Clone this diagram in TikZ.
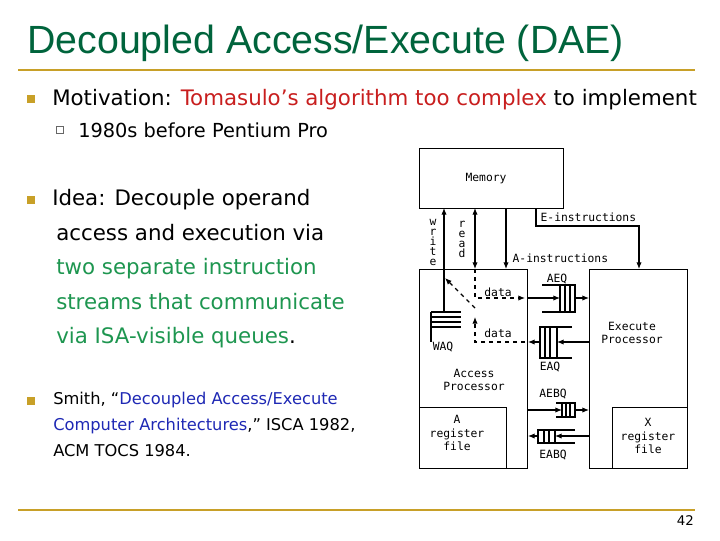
\documentclass[tikz,border=0pt]{standalone}
\usepackage{fontspec}
\setmainfont{DejaVu Sans}
\newfontfamily\titlefont{Liberation Sans}
\newfontfamily\diafont{DejaVu Sans Mono}
\usetikzlibrary{arrows.meta}
\definecolor{tgreen}{RGB}{0,100,60}
\definecolor{gold}{RGB}{200,160,40}
\definecolor{tred}{RGB}{200,30,30}
\definecolor{lgreen}{RGB}{30,150,80}
\definecolor{tblue}{RGB}{30,40,180}
\begin{document}
\begin{tikzpicture}[x=0.75pt,y=-0.75pt,
  txt/.style={anchor=base west,inner sep=0pt},
  body/.style={txt,font=\fontsize{16}{18}\selectfont},
  bul/.style={fill=gold,minimum size=6pt,inner sep=0pt},
  box/.style={draw,line width=0.9pt},
  lab/.style={font=\diafont\fontsize{8.5}{10}\selectfont,inner sep=1pt,align=center},
  arr/.style={-{Latex[length=5pt,width=4pt]},line width=0.8pt},
  darr/.style={arr,dashed}]
\useasboundingbox (0,0) rectangle (720,540);
\node[txt,font=\titlefont\fontsize{29.5}{34}\selectfont,text=tgreen] (title) at (27,53) {Decoupled Access/Execute (DAE)};
\draw[gold,line width=2.2pt] (18,70) -- (695,70);
\draw[gold,line width=1.5pt] (18,510) -- (695,510);
\node[anchor=base east,font=\fontsize{10}{12}\selectfont,inner sep=0pt] (pg) at (694,525) {42};
\node[bul] (b1) at (31,99) {};
\node[body] (t1) at (52,105) {Motivation: \textcolor{tred}{Tomasulo’s algorithm too complex} to implement};
\node[draw=black!60,fill=white,minimum size=5pt,inner sep=0pt] (b1a) at (60,130) {};
\node[body,font=\fontsize{14.5}{16}\selectfont] (t1a) at (78,137) {1980s before Pentium Pro};
\node[bul] (b2) at (31,200) {};
\node[body,align=left,anchor=north west,font=\fontsize{16}{25.9}\selectfont] (t2) at (52,189) {Idea: Decouple operand\\\hspace*{3pt}access and execution via\\\hspace*{3pt}\textcolor{lgreen}{two separate instruction}\\\hspace*{3pt}\textcolor{lgreen}{streams that communicate}\\\hspace*{3pt}\textcolor{lgreen}{via ISA-visible queues}.};
\node[bul] (b3) at (31,401) {};
\node[txt,align=left,anchor=north west,font=\fontsize{12.2}{19.5}\selectfont] (t3) at (53,392) {Smith, “\textcolor{tblue}{Decoupled Access/Execute}\\\textcolor{tblue}{Computer Architectures},” ISCA 1982,\\ACM TOCS 1984.};
% diagram
\node[box,minimum width=144pt*0.75,minimum height=60pt*0.75,anchor=north west] (mem) at (419,148) {};
\node[lab] at (486,179) {Memory};
\node[box,minimum width=108*0.75pt,minimum height=199*0.75pt,anchor=north west] (ap) at (419,269) {};
\node[box,minimum width=87*0.75pt,minimum height=61*0.75pt,anchor=north west] (arf) at (419,407) {};
\node[box,minimum width=98*0.75pt,minimum height=199*0.75pt,anchor=north west] (ep) at (589,269) {};
\node[box,minimum width=75*0.75pt,minimum height=61*0.75pt,anchor=north west] (xrf) at (612,407) {};
\node[lab] at (474,380) {Access\\Processor};
\node[lab] at (632,333) {Execute\\Processor};
\node[lab] at (457,433) {A\\register\\file};
\node[lab] at (648,436) {X\\register\\file};
% write / read / A-instr
\coordinate (wq) at (444,312);
\draw[arr] (wq) -- (444,208);
\node[lab,font=\diafont\fontsize{8.5}{7.5}\selectfont] at (433,242) {w\\r\\i\\t\\e};
\draw[{Latex[length=5pt,width=4pt]}-{Latex[length=5pt,width=4pt]},line width=0.8pt] (475,208) -- (475,269);
\node[lab,font=\diafont\fontsize{8.5}{7.5}\selectfont] at (462,239) {r\\e\\a\\d};
\draw[arr] (506,208) -- (506,269);
\node[lab,anchor=west] at (511,258) {A-instructions};
\draw[arr] (536,208) -- (536,226) -- (639,226) -- (639,269);
\node[lab,anchor=west] at (539,217) {E-instructions};
% WAQ
\foreach \y in {312,317,322,327}{\draw[line width=0.8pt] (431,\y) -- (461,\y);}
\draw[line width=0.8pt] (431,312) -- (431,342);
\node[lab] at (443,347) {WAQ};
% dashed data paths
\draw[darr] (475,269) -- (475,298) -- (525,298);
\node[lab] at (498,292) {data};
\draw[darr] (525,342) -- (475,342) -- (475,317);
\draw[darr] (475,308) -- (445,278);
\node[lab] at (498,333) {data};
% AEQ
\draw[arr] (527,298) -- (560,298);
\draw[line width=0.8pt] (542,285) -- (575,285) -- (575,312) -- (542,312);
\draw[line width=0.8pt] (560,285) -- (560,312) (565,285) -- (565,312) (570,285) -- (570,312);
\draw[arr] (575,298) -- (589,298);
\node[lab] at (557,279) {AEQ};
% EAQ
\draw[arr] (589,342) -- (557,342);
\draw[line width=0.8pt] (572,327) -- (540,327) -- (540,358) -- (572,358);
\draw[line width=0.8pt] (545,327) -- (545,358) (550,327) -- (550,358) (557,327) -- (557,358);
\draw[arr] (540,342) -- (528,342);
\node[lab] at (550,367) {EAQ};
% AEBQ
\draw[arr] (527,410) -- (562,410);
\draw[line width=0.8pt] (556,403) -- (575,403) -- (575,417) -- (556,417);
\draw[line width=0.8pt] (562,403) -- (562,417) (566,403) -- (566,417) (570,403) -- (570,417);
\draw[arr] (575,410) -- (589,410);
\node[lab] at (553,394) {AEBQ};
% EABQ
\draw[arr] (589,436) -- (555,436);
\draw[line width=0.8pt] (575,430) -- (538,430) -- (538,443) -- (575,443);
\draw[line width=0.8pt] (544,430) -- (544,443) (549,430) -- (549,443) (555,430) -- (555,443);
\draw[arr] (538,436) -- (528,436);
\node[lab] at (553,455) {EABQ};
\end{tikzpicture}
\end{document}
